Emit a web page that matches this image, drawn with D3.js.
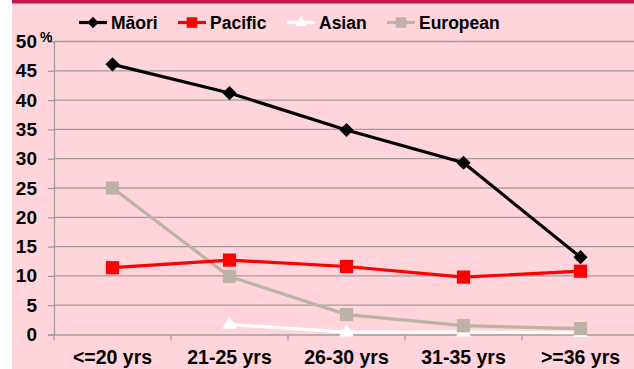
<!DOCTYPE html>
<html>
<head>
<meta charset="utf-8">
<script src="https://cdn.jsdelivr.net/npm/d3@7"></script>
<style>
  html, body { margin: 0; padding: 0; background: #ffffff; }
  svg { display: block; }
  text { font-family: "Liberation Sans", Arial, sans-serif; font-weight: bold; fill: #000; }
</style>
</head>
<body>
<div id="chart"></div>
<script>
// Age groups along the x axis
const categories = ["<=20 yrs", "21-25 yrs", "26-30 yrs", "31-35 yrs", ">=36 yrs"];
// Percentages for each ethnic group (null = no value)
const maori    = [46.1, 41.2, 34.9, 29.3, 13.2];
const pacific  = [11.4, 12.7, 11.6, 9.8, 10.8];
const asian    = [null, 1.7, 0.4, 0.4, 0.3];
const european = [25.0, 9.9, 3.4, 1.5, 1.0];
const seriesNames = ["Māori", "Pacific", "Asian", "European"];
const yTicks = [0, 5, 10, 15, 20, 25, 30, 35, 40, 45, 50];

const W = 634, H = 369;
const svg = d3.select("#chart").append("svg").attr("width", W).attr("height", H);

// Background panel and top band
svg.append("rect").attr("x", 12).attr("y", 0).attr("width", W - 12).attr("height", H).attr("fill", "#ffd4da");
svg.append("rect").attr("x", 12).attr("y", 0).attr("width", W - 12).attr("height", 3.5).attr("fill", "#c6174f");

const plot = { left: 54, right: 639, top: 41.5, bottom: 334.5 };
const x = d3.scaleBand().domain(categories).range([plot.left, plot.right]);
const y = d3.scaleLinear().domain([0, 50]).range([plot.bottom, plot.top]);
const gridColor = "#a49c9e";

// Horizontal gridlines
svg.append("g").selectAll("line").data(yTicks.filter(d => d > 0)).join("line")
  .attr("x1", plot.left).attr("x2", W)
  .attr("y1", d => y(d)).attr("y2", d => y(d))
  .attr("stroke", gridColor).attr("stroke-width", 1.3);

// Y axis
const yAxis = svg.append("g").attr("transform", `translate(${plot.left},0)`)
  .call(d3.axisLeft(y).tickValues(yTicks).tickSize(6).tickPadding(11));
yAxis.select(".domain").attr("stroke", gridColor).attr("stroke-width", 1.3);
yAxis.selectAll(".tick line").attr("stroke", gridColor).attr("stroke-width", 1.3);
yAxis.selectAll(".tick text").attr("font-size", 19).attr("font-family", "Liberation Sans, Arial, sans-serif")
  .attr("font-weight", "bold").attr("fill", "#000");
svg.append("text").attr("x", 40).attr("y", 42).attr("font-size", 14).text("%");

// X axis
const xAxis = svg.append("g").attr("transform", `translate(0,${plot.bottom})`)
  .call(d3.axisBottom(x).tickSize(0).tickPadding(16));
xAxis.select(".domain").attr("stroke", gridColor).attr("stroke-width", 1.3);
xAxis.selectAll(".tick text").attr("font-size", 19.5).attr("font-family", "Liberation Sans, Arial, sans-serif")
  .attr("font-weight", "bold").attr("fill", "#000");
// Boundary ticks between categories
const bounds = categories.map(c => x(c)).concat([x(categories[categories.length - 1]) + x.bandwidth()]);
svg.append("g").selectAll("line").data(bounds).join("line")
  .attr("x1", d => d).attr("x2", d => d)
  .attr("y1", plot.bottom).attr("y2", plot.bottom + 6)
  .attr("stroke", gridColor).attr("stroke-width", 1.3);

const cx = c => x(c) + x.bandwidth() / 2;

const series = [
  { name: seriesNames[0], values: maori,    color: "#000000", marker: "diamond" },
  { name: seriesNames[1], values: pacific,  color: "#ff0000", marker: "square" },
  { name: seriesNames[2], values: asian,    color: "#ffffff", marker: "triangle" },
  { name: seriesNames[3], values: european, color: "#bcb3a6", marker: "square" }
];

function markerPath(type, scale) {
  const k = scale || 1;
  if (type === "diamond") return `M-${5 * k},-${5 * k}H${5 * k}V${5 * k}H-${5 * k}Z`;
  if (type === "triangle") return d3.symbol(d3.symbolTriangle, 95 * k * k)();
  return `M-${6.6 * k},-${6.6 * k}H${6.6 * k}V${6.6 * k}H-${6.6 * k}Z`;
}

const line = d3.line().defined(d => d.v != null).x(d => cx(d.c)).y(d => y(d.v));

// Draw in back-to-front order so Māori sits on top
[series[2], series[3], series[1], series[0]].forEach(s => {
  const pts = categories.map((c, i) => ({ c, v: s.values[i] }));
  svg.append("path").datum(pts).attr("d", line)
    .attr("fill", "none").attr("stroke", s.color).attr("stroke-width", 3.2);
  svg.append("g").selectAll("path").data(pts.filter(d => d.v != null)).join("path")
    .attr("transform", d => `translate(${cx(d.c)},${y(d.v)})` + (s.marker === "diamond" ? " rotate(45)" : ""))
    .attr("d", markerPath(s.marker))
    .attr("fill", s.color);
});

// Legend
const legendX = [79, 178, 287, 387];
const legend = svg.append("g");
series.forEach((s, i) => {
  const g = legend.append("g").attr("transform", `translate(${legendX[i]},22.5)`);
  g.append("line").attr("x1", 0).attr("x2", 28).attr("y1", 0).attr("y2", 0)
    .attr("stroke", s.color).attr("stroke-width", 3.2);
  g.append("path")
    .attr("transform", "translate(14,0)" + (s.marker === "diamond" ? " rotate(45)" : ""))
    .attr("d", markerPath(s.marker, 0.8))
    .attr("fill", s.color);
  g.append("text").attr("x", 32).attr("y", 6.8).attr("font-size", 17.5).text(s.name);
});
</script>
</body>
</html>
